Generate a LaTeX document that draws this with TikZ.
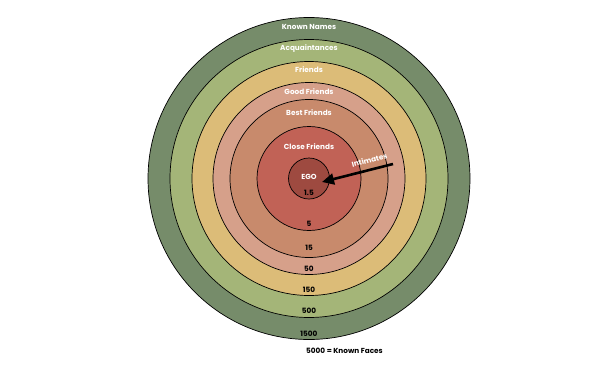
\documentclass[tikz,border=0pt]{standalone}
\usepackage{fontspec}
\setmainfont{Poppins}
\usetikzlibrary{arrows.meta}
\definecolor{knowncol}{HTML}{768C6A}
\definecolor{acqcol}{HTML}{A4B578}
\definecolor{friendcol}{HTML}{DCBC78}
\definecolor{goodcol}{HTML}{D6A08A}
\definecolor{bestcol}{HTML}{C88A6C}
\definecolor{closecol}{HTML}{C16256}
\definecolor{egocol}{HTML}{9E4A40}

\begin{document}
\begin{tikzpicture}[x=1pt,y=-1pt]
	 \tikzstyle{ring}=[circle,draw=black,line width=0.7pt,inner sep=0pt]
	 \tikzstyle{ringlabel}=[text=white,font=\bfseries\fontsize{7.3}{8}\selectfont,inner sep=0pt]
	 \tikzstyle{count}=[text=black,font=\bfseries\fontsize{7.3}{8}\selectfont,inner sep=0pt]
	 \useasboundingbox (0,0) rectangle (606,370);
	 % rings, outside in
	 \node[ring, fill=knowncol, minimum size=322pt] (known) at (309,178.5) {};
	 \node[ring, fill=acqcol, minimum size=278pt] (acq) at (309,178.5) {};
	 \node[ring, fill=friendcol, minimum size=234pt] (friends) at (309,178.5) {};
	 \node[ring, fill=goodcol, minimum size=192pt] (good) at (309,178.5) {};
	 \node[ring, fill=bestcol, minimum size=158pt] (best) at (309,178.5) {};
	 \node[ring, fill=closecol, minimum size=104pt] (close) at (309,178.5) {};
	 \node[ring, fill=egocol, minimum size=41pt] (ego) at (309,178.5) {};
	 % names
	 \node[ringlabel] (lknown) at (309,27) {Known Names};
	 \node[ringlabel] (lacq) at (309,48.5) {Acquaintances};
	 \node[ringlabel] (lfriends) at (309,70) {Friends};
	 \node[ringlabel] (lgood) at (309,91.5) {Good Friends};
	 \node[ringlabel] (lbest) at (309,112.5) {Best Friends};
	 \node[ringlabel] (lclose) at (309,147) {Close Friends};
	 \node[ringlabel] (lego) at (309,177) {EGO};
	 % sizes
	 \node[count] (n1) at (309,192.5) {1.5};
	 \node[count] (n2) at (309,223.5) {5};
	 \node[count] (n3) at (309,247.5) {15};
	 \node[count] (n4) at (309,268.5) {50};
	 \node[count] (n5) at (309,289.5) {150};
	 \node[count] (n6) at (309,310.5) {500};
	 \node[count] (n7) at (309,334) {1500};
	 \node[count] (faces) at (344.5,351) {5000 = Known Faces};
	 % intimates
	 \coordinate (tail) at (393,164);
	 \coordinate (tip) at (322,182);
	 \draw[line width=2.6pt,-{Triangle[length=12pt,width=11pt]}] (tail) -- (tip);
	 \node[ringlabel, rotate=15] (lint) at (369.5,160) {Intimates};
\end{tikzpicture}
\end{document}
